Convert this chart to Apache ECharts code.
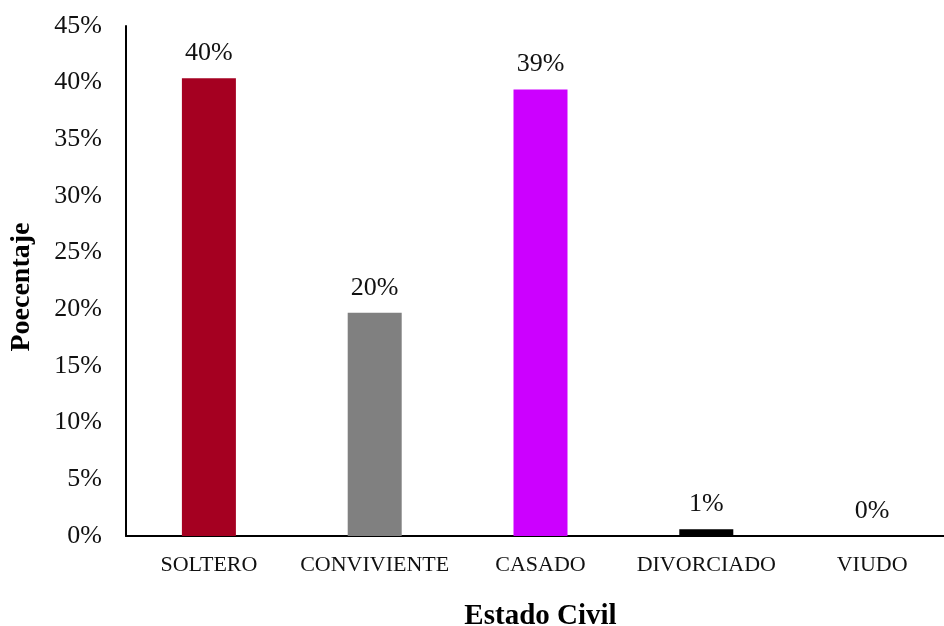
<!DOCTYPE html>
<html>
<head>
<meta charset="utf-8">
<script src="https://cdn.jsdelivr.net/npm/echarts@6/dist/echarts.min.js"></script>
<style>
  html, body { margin: 0; padding: 0; background: #fff; }
  #chart { width: 944px; height: 626px; }
</style>
</head>
<body>
<div id="chart"></div>
<script>
// Estado civil de los encuestados (porcentaje)
const categories = ['SOLTERO', 'CONVIVIENTE', 'CASADO', 'DIVORCIADO', 'VIUDO'];
const percentages = [40.4, 19.7, 39.4, 0.6, 0];
const barColors = ['#A50021', '#808080', '#CC00FF', '#000000', '#000000'];
const yTicks = [0, 5, 10, 15, 20, 25, 30, 35, 40, 45];

const FONT = '"Liberation Serif", "Times New Roman", serif';

const chart = echarts.init(document.getElementById('chart'), null, { renderer: 'canvas' });

chart.setOption({
  backgroundColor: '#ffffff',
  animation: false,
  grid: {
    left: 126, top: 26, right: -11, bottom: 90,
    containLabel: false,
    outerBoundsMode: 'none'
  },
  xAxis: {
    type: 'category',
    data: categories,
    name: 'Estado Civil',
    nameLocation: 'middle',
    nameGap: 66,
    nameTextStyle: { fontFamily: FONT, fontSize: 29, fontWeight: 'bold', color: '#000' },
    axisLine: { lineStyle: { color: '#000', width: 2 } },
    axisTick: { show: false },
    axisLabel: { fontFamily: FONT, fontSize: 22, color: '#111', margin: 18, interval: 0 }
  },
  yAxis: {
    type: 'value',
    min: yTicks[0],
    max: yTicks[yTicks.length - 1],
    interval: 5,
    name: 'Poecentaje',
    nameLocation: 'middle',
    nameGap: 90,
    nameRotate: 90,
    nameTextStyle: {
      fontFamily: FONT, fontSize: 28, fontWeight: 'bold', color: '#000',
      padding: [0, 12, 0, 0]
    },
    axisLine: { show: true, lineStyle: { color: '#000', width: 2 } },
    axisTick: { show: false },
    splitLine: { show: false },
    axisLabel: {
      fontFamily: FONT, fontSize: 26, color: '#111', margin: 24,
      formatter: v => v + '%'
    }
  },
  series: [{
    type: 'bar',
    barWidth: 54,
    data: percentages.map((v, i) => ({ value: v, itemStyle: { color: barColors[i] } })),
    label: {
      show: true,
      position: 'top',
      distance: 12,
      fontFamily: FONT,
      fontSize: 26,
      color: '#111',
      formatter: p => Math.round(p.value) + '%'
    }
  }]
});
</script>
</body>
</html>
